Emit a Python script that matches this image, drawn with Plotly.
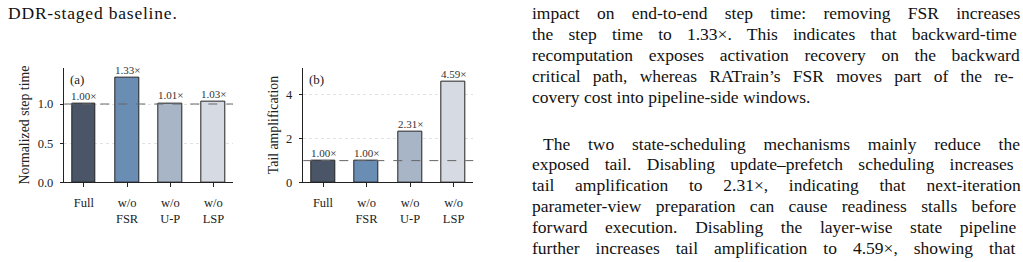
import plotly.graph_objects as go

# ---------------- data ----------------
categories = ["Full", "w/o<br>FSR", "w/o<br>U-P", "w/o<br>LSP"]
step_time = [1.00, 1.33, 1.01, 1.03]
tail_amp = [1.00, 1.00, 2.31, 4.59]
step_labels = ["1.00×", "1.33×", "1.01×", "1.03×"]
tail_labels = ["1.00×", "1.00×", "2.31×", "4.59×"]
bar_colors = ["#4a5568", "#6a8db4", "#a8b5c7", "#d5dae3"]
yticks_a = [0.0, 0.5, 1.0]
yticks_b = [0, 2, 4]

left_text = ["DDR-staged baseline."]
para1 = [
    "impact on end-to-end step time: removing FSR increases",
    "the step time to 1.33×. This indicates that backward-time",
    "recomputation exposes activation recovery on the backward",
    "critical path, whereas RATrain’s FSR moves part of the re-",
    "covery cost into pipeline-side windows.",
]
para2 = [
    "The two state-scheduling mechanisms mainly reduce the",
    "exposed tail. Disabling update–prefetch scheduling increases",
    "tail amplification to 2.31×, indicating that next-iteration",
    "parameter-view preparation can cause readiness stalls before",
    "forward execution. Disabling the layer-wise state pipeline",
    "further increases tail amplification to 4.59×, showing that",
]
# extra word spacing (px) used to justify the body-text lines
ws1 = [12.9, 10.8, 11.3, 7.9, 0]
ws2 = [13.4, 11.0, 16.3, 10.0, 13.3, 11.6]

W, H = 1023, 262
FONT = "Liberation Serif"
xs = list(range(len(categories)))

fig = go.Figure()
fig.add_trace(go.Bar(x=xs, y=step_time, width=0.55, marker=dict(color=bar_colors, line=dict(color="#222222", width=1)),
                     xaxis="x", yaxis="y", showlegend=False, hoverinfo="skip"))
fig.add_trace(go.Bar(x=xs, y=tail_amp, width=0.55, marker=dict(color=bar_colors, line=dict(color="#222222", width=1)),
                     xaxis="x2", yaxis="y2", showlegend=False, hoverinfo="skip"))

ydom = [1 - 187.5 / H, 1 - 69.5 / H]
axis_common = dict(showline=True, linecolor="#222222", linewidth=1, ticks="outside", ticklen=3.5, tickwidth=1,
                   tickcolor="#222222", tickfont=dict(family=FONT, size=12.5, color="#222222"), zeroline=False)
xr = [-0.4525, 3.4525]
fig.update_layout(
    width=W, height=H, margin=dict(l=0, r=0, t=0, b=0),
    paper_bgcolor="white", plot_bgcolor="white",
    bargap=0,
    xaxis=dict(domain=[64.3 / W, 233 / W], range=xr, tickvals=xs, ticktext=categories, showgrid=False, anchor="y",
               ticklabelstandoff=5, **axis_common),
    yaxis=dict(domain=ydom, range=[0, 1.4635], tickvals=yticks_a, tickformat=".1f", showgrid=True, gridcolor="#e2e2e2",
               griddash="dot", gridwidth=1, anchor="x", ticklabelstandoff=4,
               title=dict(text="Normalized step time", font=dict(family=FONT, size=13.8, color="#222222"), standoff=4), **axis_common),
    xaxis2=dict(domain=[303.3 / W, 473.3 / W], range=xr, tickvals=xs, ticktext=categories, showgrid=False, anchor="y2",
                ticklabelstandoff=5, **axis_common),
    yaxis2=dict(domain=ydom, range=[0, 5.25], tickvals=yticks_b, showgrid=True, gridcolor="#e2e2e2", griddash="dot",
                gridwidth=1, anchor="x2", ticklabelstandoff=4,
                title=dict(text="Tail amplification", font=dict(family=FONT, size=13.8, color="#222222"), standoff=4), **axis_common),
)

# reference dashed lines at 1.0
for xref, yref in (("x domain", "y"), ("x2 domain", "y2")):
    fig.add_shape(type="line", xref=xref, yref=yref, x0=0, x1=1, y0=1, y1=1,
                  line=dict(color="#666666", width=1, dash="dash"), layer="above")

ann = []
for x, v, t in zip(xs, step_time, step_labels):
    ann.append(dict(x=x, y=v, xref="x", yref="y", text=t, showarrow=False, yanchor="bottom", yshift=0,
                    font=dict(family=FONT, size=11, color="#333333")))
for x, v, t in zip(xs, tail_amp, tail_labels):
    ann.append(dict(x=x, y=v, xref="x2", yref="y2", text=t, showarrow=False, yanchor="bottom", yshift=0,
                    font=dict(family=FONT, size=11, color="#333333")))
ann.append(dict(x=0.02, y=0.98, xref="x domain", yref="y domain", text="(a)", showarrow=False, xanchor="left",
                yanchor="top", font=dict(family=FONT, size=13, color="#222222")))
ann.append(dict(x=0.02, y=0.98, xref="x2 domain", yref="y2 domain", text="(b)", showarrow=False, xanchor="left",
                yanchor="top", font=dict(family=FONT, size=13, color="#222222")))

BODY = 17.5


def styled(t, ws, ls=0):
    return '<span style="word-spacing:%.1fpx;letter-spacing:%.2fpx">%s</span>' % (ws, ls, t)


ann.append(dict(x=6 / W, y=1 - 13 / H, xref="paper", yref="paper", text=styled(left_text[0], 0, 0.8), showarrow=False,
                xanchor="left", yanchor="middle", font=dict(family=FONT, size=BODY, color="#111111")))
for i, line in enumerate(para1):
    ann.append(dict(x=530 / W, y=1 - (13.3 + 21.6 * i) / H, xref="paper", yref="paper", text=styled(line, ws1[i]),
                    showarrow=False, xanchor="left", yanchor="middle", font=dict(family=FONT, size=BODY, color="#111111")))
for i, line in enumerate(para2):
    x0 = 540.5 if i == 0 else 530
    ann.append(dict(x=x0 / W, y=1 - (147.5 + 21.4 * i) / H, xref="paper", yref="paper", text=styled(line, ws2[i]),
                    showarrow=False, xanchor="left", yanchor="middle", font=dict(family=FONT, size=BODY, color="#111111")))
fig.update_layout(annotations=ann)

fig.write_html("out.html")
